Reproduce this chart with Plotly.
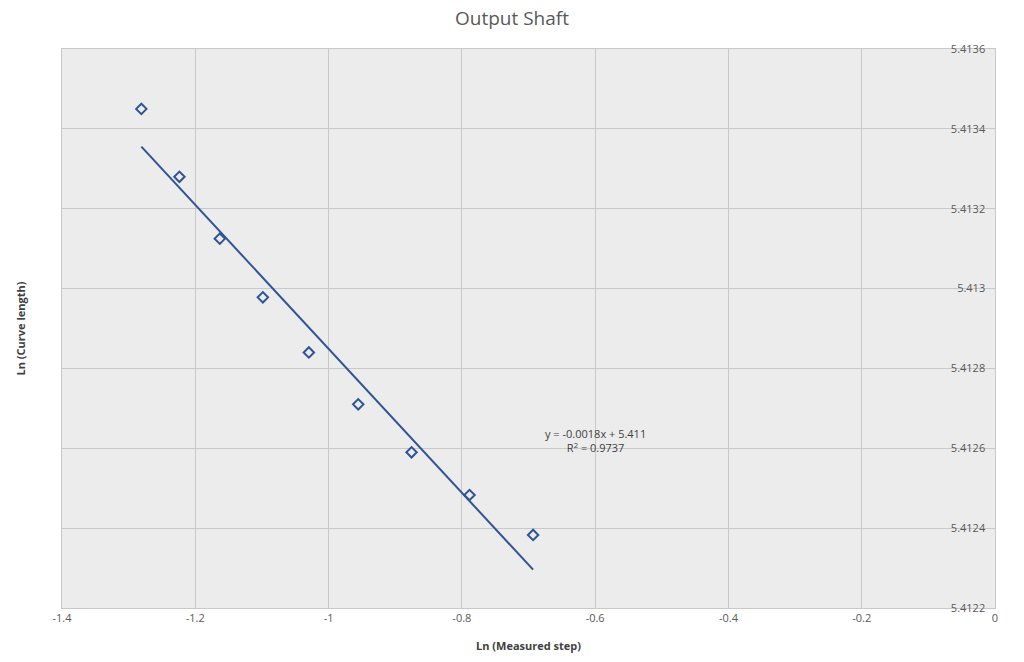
import numpy as np
import plotly.graph_objects as go

# Data
ln_step = [-1.2809, -1.2238, -1.1632, -1.0986, -1.0296, -0.9555, -0.8755, -0.7885, -0.6931]
ln_length = [5.41345, 5.41328, 5.413125, 5.412978, 5.41284, 5.41271, 5.41259, 5.412483, 5.412383]
x_ticks = [-1.4, -1.2, -1.0, -0.8, -0.6, -0.4, -0.2, 0.0]
x_tick_text = ["-1.4", "-1.2", "-1", "-0.8", "-0.6", "-0.4", "-0.2", "0"]
y_ticks = [5.4122, 5.4124, 5.4126, 5.4128, 5.4130, 5.4132, 5.4134, 5.4136]
y_tick_text = ["5.4122", "5.4124", "5.4126", "5.4128", "5.413", "5.4132", "5.4134", "5.4136"]

# Linear trendline (least squares)
slope, intercept = np.polyfit(ln_step, ln_length, 1)
x_fit = [min(ln_step), max(ln_step)]
y_fit = [slope * v + intercept for v in x_fit]

BLUE = "#2f5496"
GRID = "#c8c8c8"
PLOT_BG = "#ececec"
TXT = "#595959"

fig = go.Figure()
fig.add_trace(go.Scatter(x=x_fit, y=y_fit, mode="lines",
                         line=dict(color=BLUE, width=2), showlegend=False,
                         hoverinfo="skip"))
fig.add_trace(go.Scatter(x=ln_step, y=ln_length, mode="markers",
                         marker=dict(symbol="diamond-open", size=8, color=BLUE,
                                     line=dict(width=2, color=BLUE)),
                         showlegend=False))

# Backgrounds behind y tick labels (hide gridline under the text)
for t in y_ticks[1:-1]:
    fig.add_shape(type="rect", xref="paper", yref="y", layer="between",
                  x0=0.942, x1=0.99, y0=t - 0.000012, y1=t + 0.000012,
                  fillcolor=PLOT_BG, line=dict(width=0))

fig.add_annotation(x=-0.6, y=5.41262, xref="x", yref="y",
                   text="y = -0.0018x + 5.411<br>R<sup>2</sup> = 0.9737",
                   showarrow=False, align="center",
                   font=dict(family="Open Sans, sans-serif", size=11, color="#404040"))

fig.update_layout(
    width=1024, height=662,
    margin=dict(l=62, r=29, t=49, b=54),
    paper_bgcolor="#ffffff",
    plot_bgcolor=PLOT_BG,
    title=dict(text="Output Shaft", x=0.5, xanchor="center", y=0.973, yanchor="middle",
               font=dict(family="Open Sans, sans-serif", size=19, color=TXT)),
    font=dict(family="Open Sans, sans-serif", size=11, color=TXT),
    xaxis=dict(range=[-1.4, 0], tickvals=x_ticks, ticktext=x_tick_text,
               showgrid=True, gridcolor=GRID, gridwidth=1, zeroline=False,
               showline=True, linecolor=GRID, mirror=True, ticks="",
               ticklabeloverflow="allow",
               tickfont=dict(size=11, color=TXT),
               title=dict(text="<b>Ln (Measured step)</b>", standoff=18,
                          font=dict(size=11, color="#404040"))),
    yaxis=dict(range=[5.4122, 5.4136], tickvals=y_ticks, ticktext=y_tick_text,
               side="right", ticklabelposition="inside", ticklabelstandoff=9,
               ticklabeloverflow="allow",
               showgrid=True, gridcolor=GRID, gridwidth=1, zeroline=False,
               showline=True, linecolor=GRID, mirror=True, ticks="",
               tickfont=dict(size=11, color=TXT)),
)

fig.add_annotation(text="<b>Ln (Curve length)</b>", xref="paper", yref="paper",
                   x=-0.044, y=0.5, xanchor="center", yanchor="middle",
                   textangle=-90, showarrow=False,
                   font=dict(family="Open Sans, sans-serif", size=11, color="#404040"))

fig.write_html("out.html")
